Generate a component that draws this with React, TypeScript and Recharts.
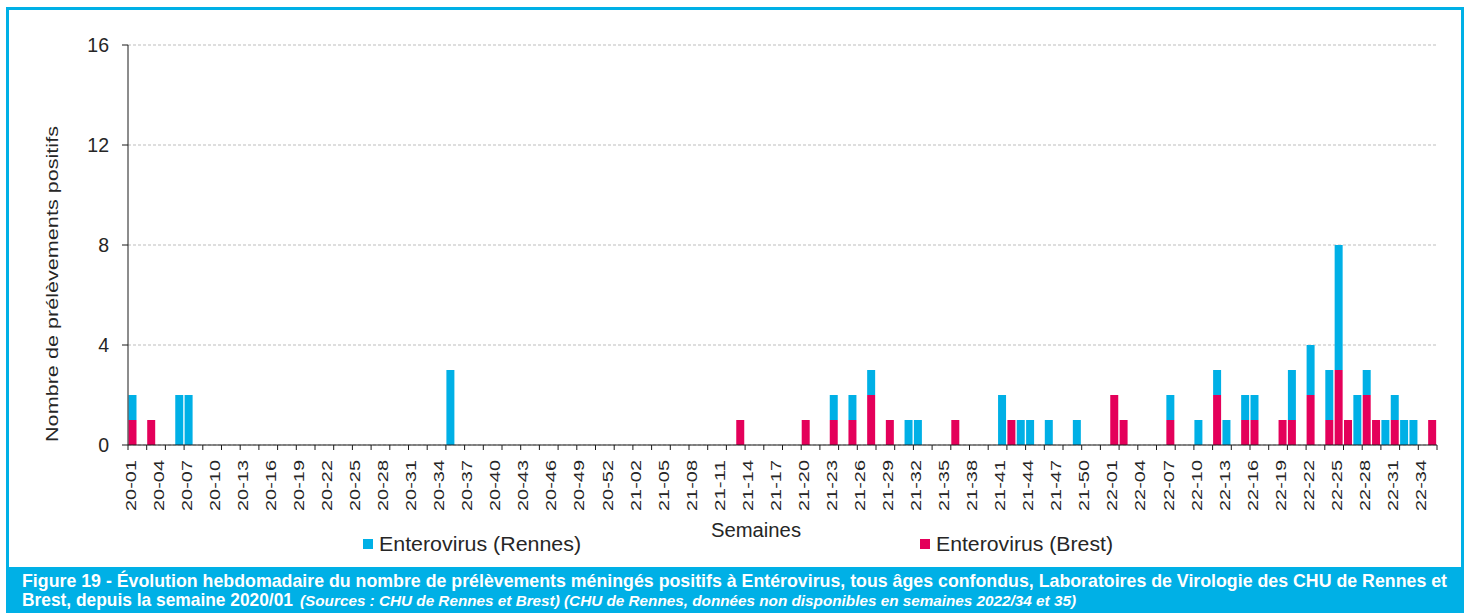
import React from 'react';
import { BarChart, Bar, XAxis, YAxis, CartesianGrid, Legend } from 'recharts';

// ---- Data ----
const YEARS = ['20', '21', '22'];
const WEEKS_PER_YEAR = [53, 52, 35];

// Weekly positive samples (only non-zero weeks listed; all other weeks are 0)
const RENNES_VALUES: [string, number][] = [
  ['20-01', 1], ['20-06', 2], ['20-07', 2], ['20-35', 3],
  ['21-23', 1], ['21-25', 1], ['21-27', 1], ['21-31', 1], ['21-32', 1],
  ['21-41', 2], ['21-43', 1], ['21-44', 1], ['21-46', 1], ['21-49', 1],
  ['22-07', 1], ['22-10', 1], ['22-12', 1], ['22-13', 1], ['22-15', 1], ['22-16', 1],
  ['22-20', 2], ['22-22', 2], ['22-24', 2], ['22-25', 5], ['22-27', 2], ['22-28', 1],
  ['22-30', 1], ['22-31', 1], ['22-32', 1], ['22-33', 1],
];

const BREST_VALUES: [string, number][] = [
  ['20-01', 1], ['20-03', 1],
  ['21-13', 1], ['21-20', 1], ['21-23', 1], ['21-25', 1], ['21-27', 2], ['21-29', 1],
  ['21-36', 1], ['21-42', 1],
  ['22-01', 2], ['22-02', 1], ['22-07', 1], ['22-12', 2], ['22-15', 1], ['22-16', 1],
  ['22-19', 1], ['22-20', 1], ['22-22', 2], ['22-24', 1], ['22-25', 3], ['22-26', 1],
  ['22-28', 2], ['22-29', 1], ['22-31', 1], ['22-35', 1],
];

const Y_TICKS = [0, 4, 8, 12, 16];

const SERIES_RENNES = 'Enterovirus (Rennes)';
const SERIES_BREST = 'Enterovirus (Brest)';
const X_TITLE = 'Semaines';
const Y_TITLE = 'Nombre de prélèvements positifs';
const CAPTION_1 =
  'Figure 19 - Évolution hebdomadaire du nombre de prélèvements méningés positifs à Entérovirus, tous âges confondus, Laboratoires de Virologie des CHU de Rennes et';
const CAPTION_2A = 'Brest, depuis la semaine 2020/01';
const CAPTION_2B =
  '(Sources : CHU de Rennes et Brest) (CHU de Rennes, données non disponibles en semaines 2022/34 et 35)';

// ---- Build table ----
const WEEKS: string[] = [];
YEARS.forEach((y, i) => {
  for (let w = 1; w <= WEEKS_PER_YEAR[i]; w++) {
    WEEKS.push(`${y}-${w < 10 ? '0' + w : w}`);
  }
});
const rennesMap = new Map(RENNES_VALUES);
const brestMap = new Map(BREST_VALUES);
const data = WEEKS.map((week) => ({
  week,
  rennes: rennesMap.get(week) ?? 0,
  brest: brestMap.get(week) ?? 0,
}));

// ---- Style / layout ----
const BLUE = '#00B0E6';
const RED = '#E4005A';
const AXIS = '#1a1a1a';
const TEXT = '#262626';
const FONT = '"Liberation Sans", Arial, sans-serif';

const W = 1473;
const CH_H = 560;
const M_TOP = 45;
const M_RIGHT = 36;
const M_LEFT = 68;
const Y_W = 60;
const X_H = 70;
const M_BOTTOM = 45;
const PLOT_LEFT = M_LEFT + Y_W;
const PLOT_RIGHT = W - M_RIGHT;
const PLOT_BOTTOM = CH_H - M_BOTTOM - X_H;
const BAND = (PLOT_RIGHT - PLOT_LEFT) / WEEKS.length;

const XTick = (props: any) => {
  const { x, index, payload } = props;
  const els: React.ReactNode[] = [];
  if (index % 2 === 0) {
    const bx = x - BAND / 2;
    els.push(<line key="t" x1={bx} x2={bx} y1={PLOT_BOTTOM} y2={PLOT_BOTTOM + 5} stroke={AXIS} strokeWidth={1} />);
  }
  if (index === WEEKS.length - 1 && (index + 1) % 2 === 0) {
    const bx = x + BAND / 2;
    els.push(<line key="e" x1={bx} x2={bx} y1={PLOT_BOTTOM} y2={PLOT_BOTTOM + 5} stroke={AXIS} strokeWidth={1} />);
  }
  if (index % 3 === 0) {
    els.push(
      <text
        key="l"
        transform={`translate(${x + 3},${PLOT_BOTTOM + 15}) rotate(-90)`}
        textAnchor="end"
        fontSize={15}
        fontFamily={FONT}
        fill={TEXT}
        textLength={51}
        lengthAdjust="spacingAndGlyphs"
      >
        {payload.value}
      </text>
    );
  }
  return <g>{els}</g>;
};

const YLabel = () => (
  <text
    transform={`translate(58,284) rotate(-90)`}
    textAnchor="middle"
    fontSize={16}
    fontFamily={FONT}
    fill={TEXT}
    textLength={316}
    lengthAdjust="spacingAndGlyphs"
  >
    {Y_TITLE}
  </text>
);

const XLabel = () => (
  <text
    x={756}
    y={537}
    textAnchor="middle"
    fontSize={20}
    fontFamily={FONT}
    fill={TEXT}
    textLength={90}
    lengthAdjust="spacingAndGlyphs"
  >
    {X_TITLE}
  </text>
);

const LegendContent = () => (
  <div style={{ position: 'relative', height: 0 }}>
    <svg width={W} height={40} style={{ position: 'absolute', left: 0, top: 0, overflow: 'visible' }}>
      <rect x={363} y={9} width={10} height={10} fill={BLUE} />
      <text x={379} y={21} fontSize={20} fontFamily={FONT} fill={TEXT} textLength={202} lengthAdjust="spacingAndGlyphs">
        {SERIES_RENNES}
      </text>
      <rect x={920} y={9} width={10} height={10} fill={RED} />
      <text x={936} y={21} fontSize={20} fontFamily={FONT} fill={TEXT} textLength={177} lengthAdjust="spacingAndGlyphs">
        {SERIES_BREST}
      </text>
    </svg>
  </div>
);

export default function App() {
  return (
    <div style={{ position: 'absolute', left: 0, top: 0, width: W, height: 613, background: '#fff', overflow: 'hidden' }}>
      <div
        style={{
          position: 'absolute',
          left: 6,
          top: 7,
          width: 1458,
          height: 640,
          boxSizing: 'border-box',
          border: `3px solid ${BLUE}`,
        }}
      />
      <div style={{ position: 'absolute', left: 0, top: 0 }}>
        <BarChart
          width={W}
          height={CH_H}
          data={data}
          margin={{ top: M_TOP, right: M_RIGHT, left: M_LEFT, bottom: M_BOTTOM }}
          barCategoryGap={0.5}
        >
          <CartesianGrid vertical={false} stroke="#BDBDBD" strokeDasharray="3 2" />
          <XAxis
            dataKey="week"
            interval={0}
            tickLine={false}
            tick={<XTick />}
            height={X_H}
            axisLine={{ stroke: AXIS }}
            label={<XLabel />}
          />
          <YAxis
            domain={[0, 16]}
            ticks={Y_TICKS}
            width={Y_W}
            axisLine={{ stroke: AXIS }}
            tickLine={{ stroke: AXIS }}
            tickSize={6}
            tickMargin={13}
            tick={{ fontSize: 19.5, fill: TEXT, fontFamily: FONT }}
            label={<YLabel />}
          />
          <Legend
            content={<LegendContent />}
            wrapperStyle={{ left: 0, top: 530, bottom: 'auto', width: W, height: 0 }}
          />
          <Bar dataKey="brest" name={SERIES_BREST} stackId="a" fill={RED} isAnimationActive={false} />
          <Bar dataKey="rennes" name={SERIES_RENNES} stackId="a" fill={BLUE} isAnimationActive={false} />
        </BarChart>
      </div>
      <div style={{ position: 'absolute', left: 7, top: 567, width: 1457, height: 46, background: BLUE }}>
        <svg width={1457} height={46} style={{ position: 'absolute', left: 0, top: 0, overflow: 'visible' }}>
          <text transform="translate(15,20) scale(1,1.15)" fontSize={16} fontWeight="bold" fontFamily={FONT} fill="#fff" textLength={1425} lengthAdjust="spacingAndGlyphs">
            {CAPTION_1}
          </text>
          <text transform="translate(15,39) scale(1,1.15)" fontSize={16} fontWeight="bold" fontFamily={FONT} fill="#fff" textLength={271} lengthAdjust="spacingAndGlyphs">
            {CAPTION_2A}
          </text>
          <text transform="translate(293,39) scale(1,1.15)" fontSize={13.5} fontWeight="bold" fontStyle="italic" fontFamily={FONT} fill="#fff" textLength={776} lengthAdjust="spacingAndGlyphs">
            {CAPTION_2B}
          </text>
        </svg>
      </div>
    </div>
  );
}
